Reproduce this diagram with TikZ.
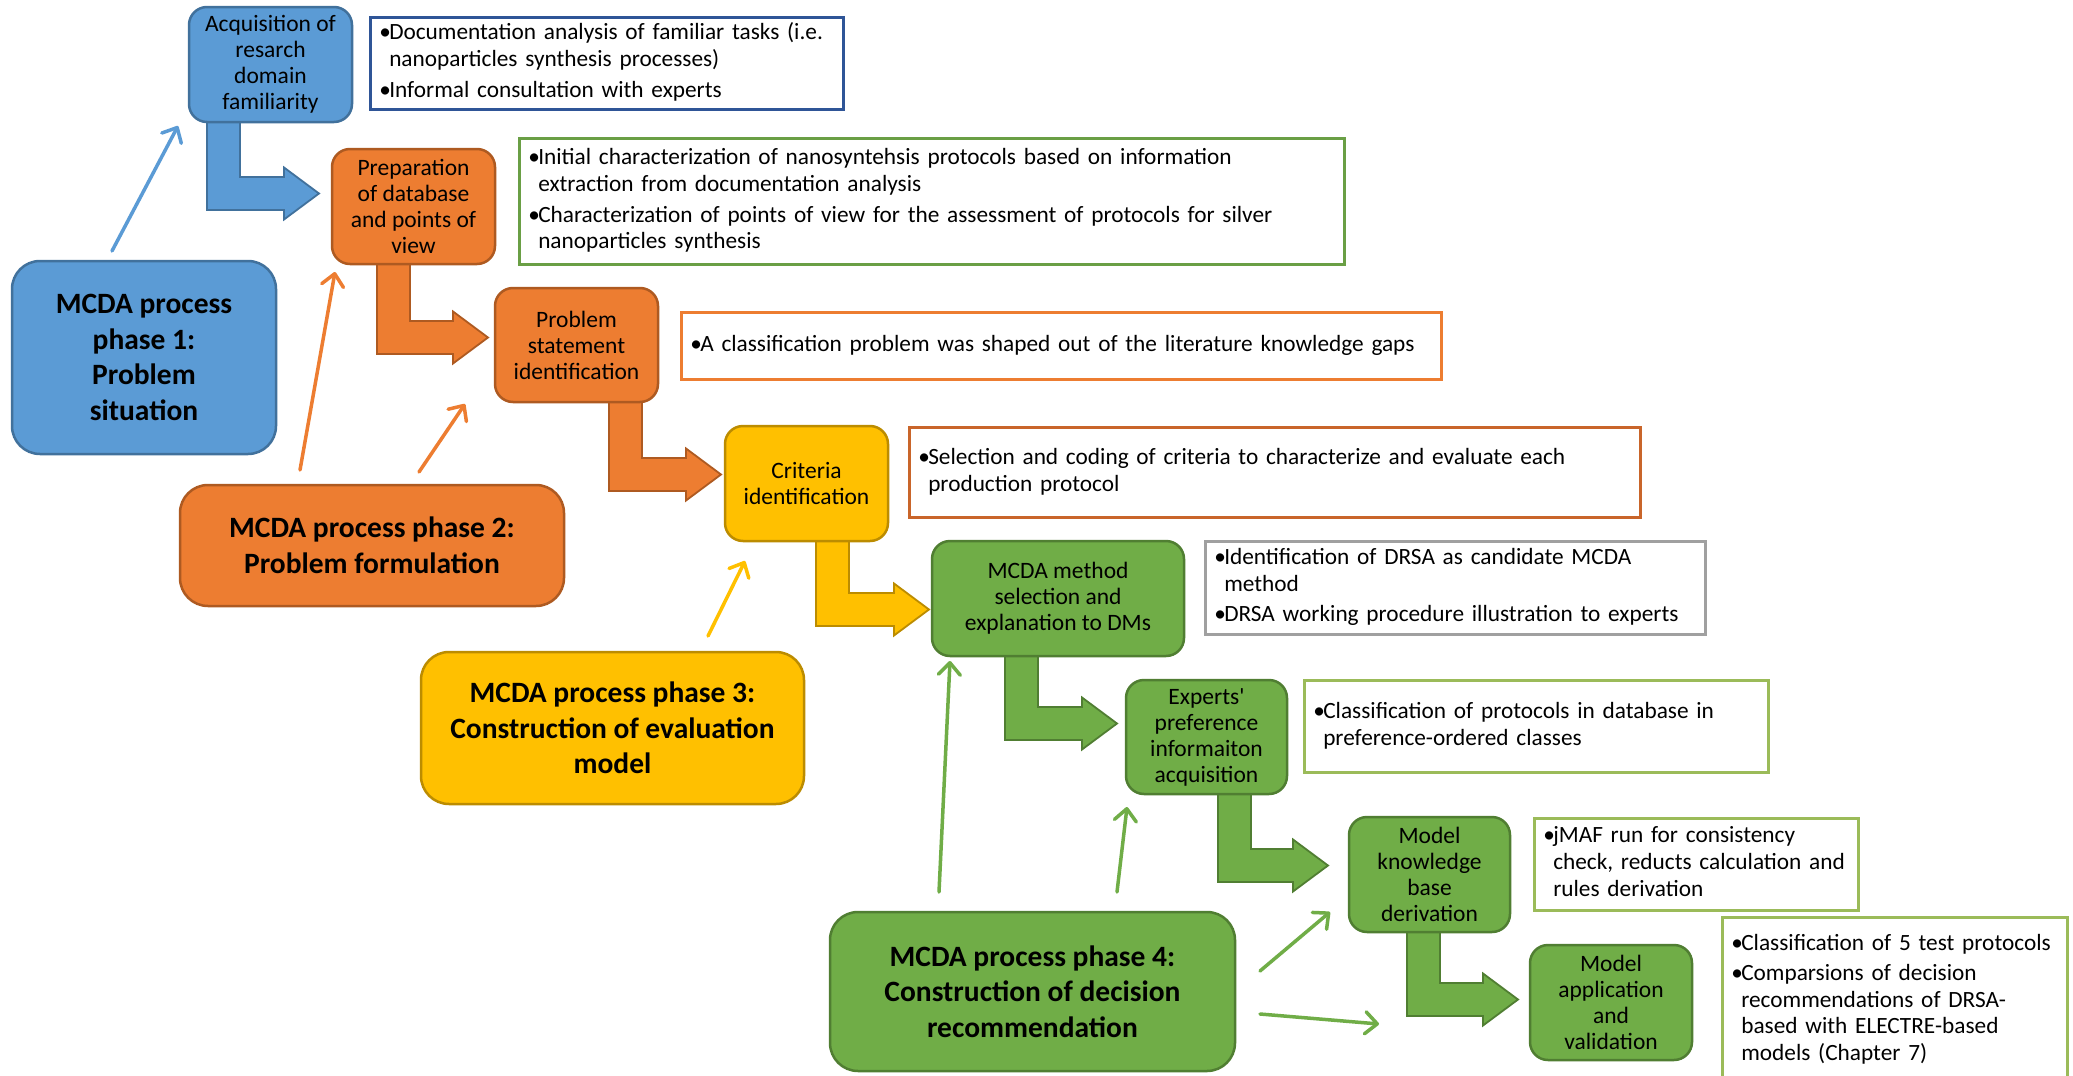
\documentclass[tikz,border=0pt]{standalone}
\usepackage{fontspec}
\setmainfont{Carlito}
\usetikzlibrary{arrows.meta}

\definecolor{bluefill}{HTML}{5B9BD5}
\definecolor{blueline}{HTML}{41719C}
\definecolor{orangefill}{HTML}{ED7D31}
\definecolor{orangeline}{HTML}{AE5A21}
\definecolor{yellowfill}{HTML}{FFC000}
\definecolor{yellowline}{HTML}{BC8C00}
\definecolor{greenfill}{HTML}{70AD47}
\definecolor{greenline}{HTML}{507E32}
\definecolor{notedarkblue}{HTML}{2F5597}
\definecolor{notegreen}{HTML}{6A9F45}
\definecolor{noteorange}{HTML}{ED7D31}
\definecolor{noterust}{HTML}{C9652A}
\definecolor{notegray}{HTML}{A0A0A0}
\definecolor{noteolive}{HTML}{9BBB59}

\newcommand\stepfont{\fontsize{23.5}{26}\selectfont}
\newcommand\notefont{\fontsize{23.3}{26.8}\selectfont}
\newcommand\phasefont{\fontsize{29.5}{35.5}\selectfont\bfseries}
% one bullet with a hanging block of lines
\newcommand\bul[1]{\makebox[10pt][l]{\textbullet}\begin{tabular}[t]{@{}l@{}}#1\end{tabular}}

% elbow-shaped block arrow: style, shaft left x, top y, horizontal shaft top y, tip x
\newcommand\elbow[5]{%
  \pgfmathsetmacro\elbR{#2+33}\pgfmathsetmacro\elbB{#4+33}%
  \pgfmathsetmacro\elbC{#4+16.5}\pgfmathsetmacro\elbH{#5-35}%
  \pgfmathsetmacro\elbT{#4+16.5-26}\pgfmathsetmacro\elbD{#4+16.5+26}%
  \draw[#1] (#2,#3) -- (\elbR,#3) -- (\elbR,#4) -- (\elbH,#4) -- (\elbH,\elbT)
    -- (#5,\elbC) -- (\elbH,\elbD) -- (\elbH,\elbB) -- (#2,\elbB) -- cycle;}

\tikzset{
  stepbox/.style={draw, line width=2.5pt, rounded corners=18pt, align=center,
    font=\stepfont, inner sep=0pt},
  phasebox/.style={draw, line width=2.5pt, rounded corners=28pt, align=center,
    font=\phasefont, inner sep=0pt},
  notebox/.style={draw, line width=2.5pt, anchor=north west, align=left,
    inner xsep=9pt, inner ysep=0pt, font=\notefont, fill=white},
  blockarrow/.style={line width=1.8pt, line join=miter},
  thinarrow/.style={line width=3.5pt, line cap=round,
    -{Straight Barb[length=12pt,width=22pt,round]}},
}

\begin{document}
\begin{tikzpicture}[x=1pt,y=-1pt]
\clip (0,0) rectangle (2073,1076);
\fill[white] (0,0) rectangle (2073,1076);

% elbow arrows between consecutive steps
\elbow{blockarrow, fill=bluefill, draw=blueline}{207}{122}{177}{319}
\elbow{blockarrow, fill=orangefill, draw=orangeline}{377}{264}{321}{488}
\elbow{blockarrow, fill=orangefill, draw=orangeline}{609}{402}{458}{721}
\elbow{blockarrow, fill=yellowfill, draw=yellowline}{816}{541}{593}{929}
\elbow{blockarrow, fill=greenfill, draw=greenline}{1005}{656}{707}{1117}
\elbow{blockarrow, fill=greenfill, draw=greenline}{1218}{794}{849}{1328}
\elbow{blockarrow, fill=greenfill, draw=greenline}{1407}{932}{983}{1518}

% steps
\node[stepbox, fill=bluefill, draw=blueline, minimum width=163, minimum height=115]
  (acq) at (270.5,64.5) {Acquisition of\\resarch\\domain\\familiarity};
\node[stepbox, fill=orangefill, draw=orangeline, minimum width=163, minimum height=115]
  (prep) at (413.5,206.5) {Preparation\\of database\\and points of\\view};
\node[stepbox, fill=orangefill, draw=orangeline, minimum width=163, minimum height=114]
  (ps) at (576.5,345) {Problem\\statement\\identification};
\node[stepbox, fill=yellowfill, draw=yellowline, minimum width=163, minimum height=115]
  (crit) at (806.5,483.5) {Criteria\\identification};
\node[stepbox, fill=greenfill, draw=greenline, minimum width=252, minimum height=115]
  (mcda) at (1058,598.5) {MCDA method\\selection and\\explanation to DMs};
\node[stepbox, fill=greenfill, draw=greenline, minimum width=161, minimum height=114]
  (exp) at (1206.5,737) {Experts\textquotesingle\\preference\\informaiton\\acquisition};
\node[stepbox, fill=greenfill, draw=greenline, minimum width=161, minimum height=115]
  (kb) at (1429.5,874.5) {Model\\knowledge\\base\\derivation};
\node[stepbox, fill=greenfill, draw=greenline, minimum width=162, minimum height=115]
  (app) at (1611,1002.5) {Model\\application\\and\\validation};

% notes beside the steps
\node[notebox, draw=notedarkblue, text width=455, minimum height=92] (acqN) at (369,16)
  {\bul{Documentation analysis of familiar tasks (i.e.\\nanoparticles synthesis processes)}\\[3pt]
   \bul{Informal consultation with experts}};
\node[notebox, draw=notegreen, text width=807, minimum height=126] (prepN) at (518,137)
  {\bul{Initial characterization of nanosyntehsis protocols based on information\\extraction from documentation analysis}\\[3pt]
   \bul{Characterization of points of view for the assessment of protocols for silver\\nanoparticles synthesis}};
\node[notebox, draw=noteorange, text width=742, minimum height=67] (psN) at (680,311)
  {\bul{A classification problem was shaped out of the literature knowledge gaps}};
\node[notebox, draw=noterust, text width=713, minimum height=90] (critN) at (908,426)
  {\bul{Selection and coding of criteria to characterize and evaluate each\\production protocol}};
\node[notebox, draw=notegray, text width=482, minimum height=93] (mcdaN) at (1204,540)
  {\bul{Identification of DRSA as candidate MCDA\\method}\\[3pt]
   \bul{DRSA working procedure illustration to experts}};
\node[notebox, draw=noteolive, text width=446, minimum height=92] (expN) at (1303,679)
  {\bul{Classification of protocols in database in\\preference-ordered classes}};
\node[notebox, draw=noteolive, text width=306, minimum height=92] (kbN) at (1533,817)
  {\bul{jMAF run for consistency\\check, reducts calculation and\\rules derivation}};
\node[notebox, draw=noteolive, text width=327, minimum height=166] (appN) at (1721,916)
  {\bul{Classification of 5 test protocols}\\[3pt]
   \bul{Comparsions of decision\\recommendations of DRSA-\\based with ELECTRE-based\\models (Chapter 7)}};

% phases
\node[phasebox, fill=bluefill, draw=blueline, minimum width=264, minimum height=193]
  (ph1) at (144,357.5) {MCDA process\\phase 1:\\Problem\\situation};
\node[phasebox, fill=orangefill, draw=orangeline, minimum width=384, minimum height=121]
  (ph2) at (372,545.5) {MCDA process phase 2:\\Problem formulation};
\node[phasebox, fill=yellowfill, draw=yellowline, minimum width=383, minimum height=152]
  (ph3) at (612.5,728) {MCDA process phase 3:\\Construction of evaluation\\model};
\node[phasebox, fill=greenfill, draw=greenline, minimum width=405, minimum height=159]
  (ph4) at (1032.5,991.5) {MCDA process phase 4:\\Construction of decision\\recommendation};

% free ends of the phase pointers
\coordinate (b1s) at (112,251);   \coordinate (b1e) at (178,126);
\coordinate (o1s) at (300,470);   \coordinate (o1e) at (335,272);
\coordinate (o2s) at (419,472);   \coordinate (o2e) at (465,404);
\coordinate (y1s) at (708,636);   \coordinate (y1e) at (745,561);
\coordinate (g1s) at (939,892);   \coordinate (g1e) at (950,661);
\coordinate (g2s) at (1117,892);  \coordinate (g2e) at (1127,807);
\coordinate (g3s) at (1260,971);  \coordinate (g3e) at (1330,912);
\coordinate (g4s) at (1260,1014); \coordinate (g4e) at (1379,1024);

% phase pointers
\draw[thinarrow, draw=bluefill] (b1s) -- (b1e);
\draw[thinarrow, draw=orangefill] (o1s) -- (o1e);
\draw[thinarrow, draw=orangefill] (o2s) -- (o2e);
\draw[thinarrow, draw=yellowfill] (y1s) -- (y1e);
\draw[thinarrow, draw=greenfill] (g1s) -- (g1e);
\draw[thinarrow, draw=greenfill] (g2s) -- (g2e);
\draw[thinarrow, draw=greenfill] (g3s) -- (g3e);
\draw[thinarrow, draw=greenfill] (g4s) -- (g4e);
\end{tikzpicture}
\end{document}
